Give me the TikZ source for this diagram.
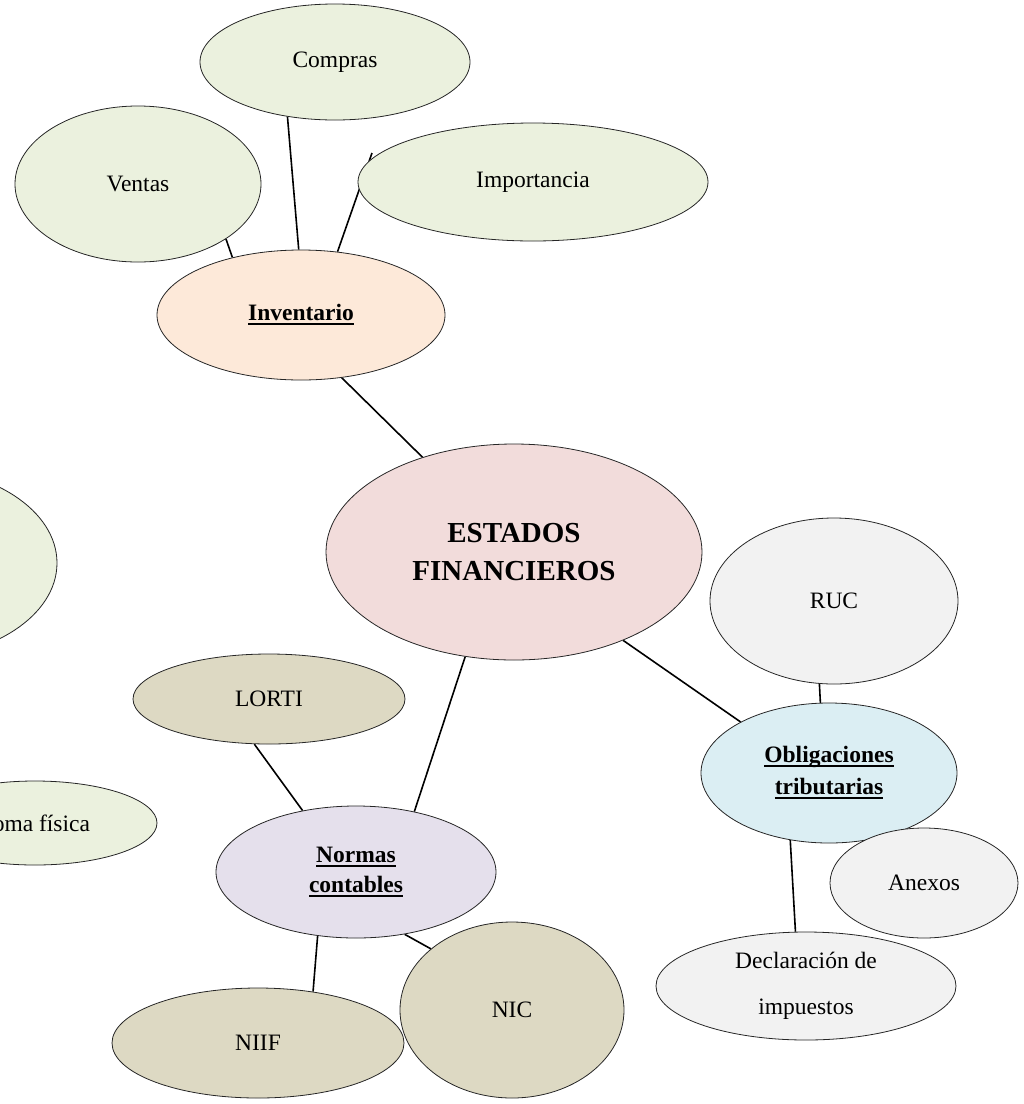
\documentclass[tikz,border=0pt]{standalone}
\usepackage{fontspec}
\setmainfont{Liberation Serif}
\usetikzlibrary{shapes.geometric,backgrounds}

\definecolor{leaf}{HTML}{EBF1DE}
\definecolor{peach}{HTML}{FDE9D9}
\definecolor{rose}{HTML}{F2DCDB}
\definecolor{sand}{HTML}{DDD9C3}
\definecolor{lilac}{HTML}{E5E0EC}
\definecolor{pale}{HTML}{F2F2F2}
\definecolor{sky}{HTML}{DBEEF3}

% underlined word with a heavy rule just below the baseline
\newcommand{\ulword}[1]{\setbox0=\hbox{#1}\rlap{\rule[-4.5pt]{\wd0}{2.2pt}}\box0}

\begin{document}
\begin{tikzpicture}[x=1pt,y=-1pt,
  bubble/.style={ellipse,draw=black!85,line width=0.8pt,inner sep=0pt,
    align=center,font=\fontsize{23.5}{32}\selectfont},
  oval/.style n args={2}{minimum width=#1pt,minimum height=#2pt},
  link/.style={line width=1.6pt,black}]

\useasboundingbox (0,0) rectangle (1024,1104);
\clip (0,0) rectangle (1024,1104);

% central topic
\node[bubble,fill=rose,oval={376}{216},font=\fontsize{29}{38}\selectfont\bfseries]
  (ef) at (514,552) {ESTADOS\\FINANCIEROS};

% inventory branch
\node[bubble,fill=peach,oval={288}{130},font=\fontsize{23.5}{32}\selectfont\bfseries]
  (inv) at (301,315) {\ulword{Inventario}};
\node[bubble,fill=leaf,oval={270}{116}] (comp) at (335,62) {Compras};
\node[bubble,fill=leaf,oval={246}{156}] (vent) at (138,184) {Ventas};
\node[bubble,fill=leaf,oval={350}{118}] (imp) at (533,182) {Importancia};
\coordinate (impstub) at (372,153);

% left side
\node[bubble,fill=leaf,oval={290}{190}] (side) at (-88,563) {};
\node[bubble,fill=leaf,oval={244}{84}] (toma) at (35,823) {Toma física};

% accounting standards branch
\node[bubble,fill=lilac,oval={280}{132},font=\fontsize{23.5}{30}\selectfont\bfseries]
  (norm) at (356,872) {\ulword{Normas}\\\ulword{contables}};
\node[bubble,fill=sand,oval={272}{90}] (lorti) at (269,699) {LORTI};
\node[bubble,fill=sand,oval={292}{110}] (niif) at (258,1043) {NIIF};
\node[bubble,fill=sand,oval={224}{176}] (nic) at (512,1010) {NIC};

% tax obligations branch
\node[bubble,fill=sky,oval={256}{140},font=\fontsize{23.5}{32}\selectfont\bfseries]
  (obl) at (829,773) {\ulword{Obligaciones}\\\ulword{tributarias}};
\node[bubble,fill=pale,oval={248}{166}] (ruc) at (834,601) {RUC};
\node[bubble,fill=pale,oval={188}{110}] (anex) at (924,883) {Anexos};
\node[bubble,fill=pale,oval={300}{108}] (decl) at (806,986) {Declaración de\\[14pt]impuestos};

% connectors, kept beneath the bubbles
\begin{scope}[on background layer]
  \draw[link] (inv.92) -- (comp.-131);
  \draw[link] (inv.140) -- (vent.-32);
  \draw[link] (inv.60) -- (impstub);
  \draw[link] (inv.-57) -- (ef.134);
  \draw[link] (ef.-115) -- (norm.46);
  \draw[link] (ef.-39) -- (obl.150);
  \draw[link] (norm.131) -- (lorti.-108);
  \draw[link] (norm.-121) -- (niif.43);
  \draw[link] (norm.-52) -- (nic.143);
  \draw[link] (obl.97) -- (ruc.-100);
  \draw[link] (obl.-120) -- (decl.101);
\end{scope}
\end{tikzpicture}
\end{document}
